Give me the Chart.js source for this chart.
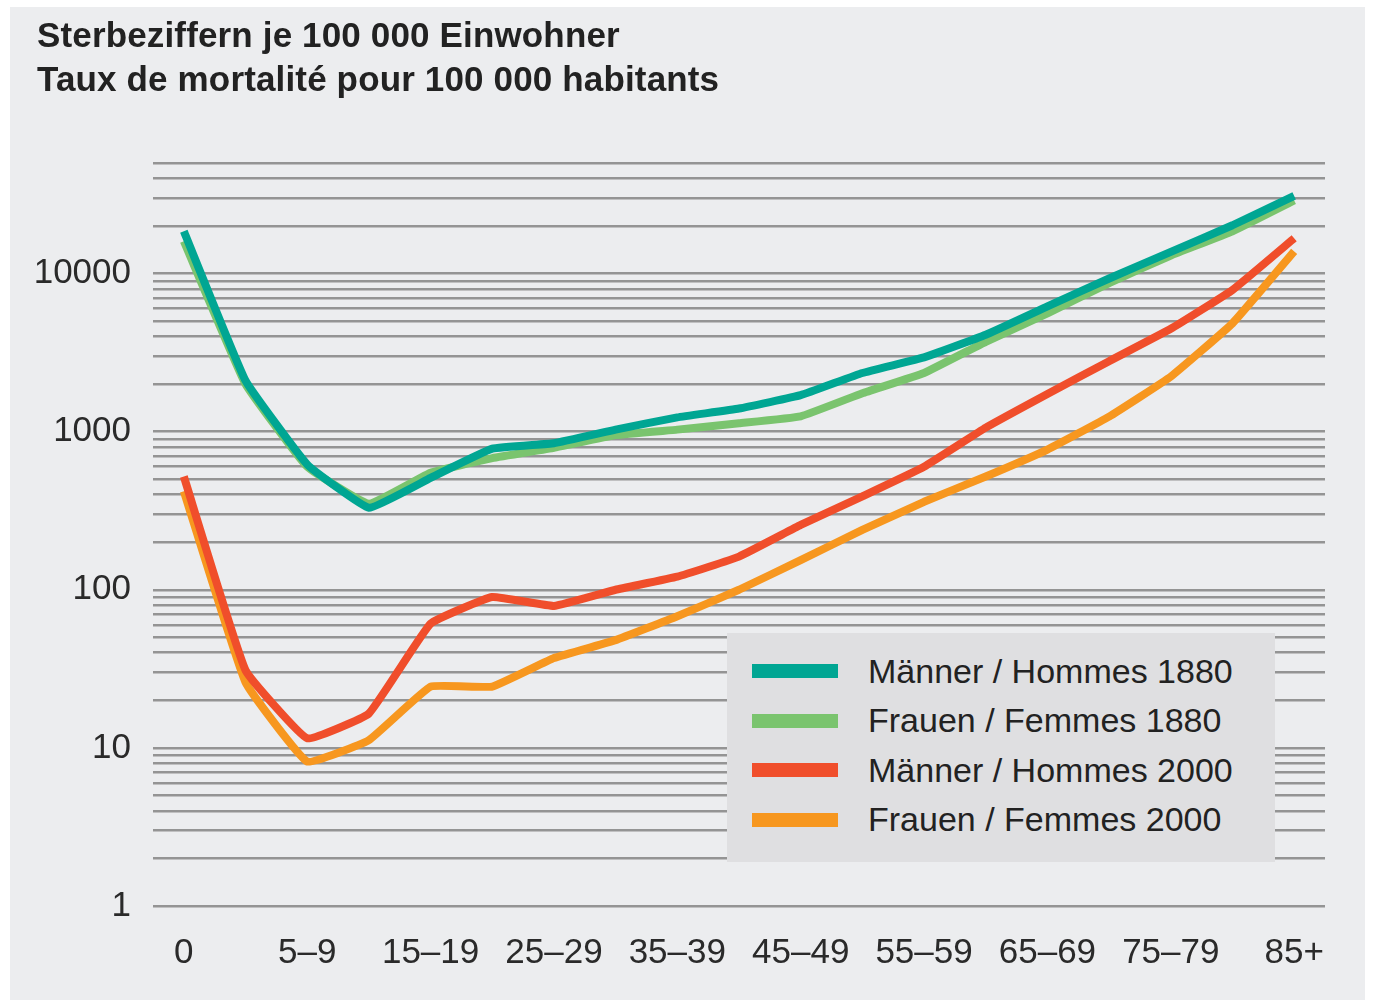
<!DOCTYPE html>
<html>
<head>
<meta charset="utf-8">
<script src="https://cdn.jsdelivr.net/npm/chart.js@4"></script>
<style>
  body { margin: 0; background: #ffffff; font-family: 'Liberation Sans', Arial, sans-serif; }
  #panel { position: absolute; left: 10px; top: 7px; width: 1355px; height: 993px; background: #ecedef; }
  #wrap { position: absolute; left: 0; top: 0; width: 1373px; height: 1007px; }
  #title { position: absolute; left: 37px; top: 13px; font-weight: bold; font-size: 35px; line-height: 44px; letter-spacing: 0.15px; color: #222; }
  #legend { position: absolute; left: 727px; top: 633px; width: 548px; height: 229px; background: #dfdfe1; }
  .row { position: absolute; left: 0; height: 40px; display: flex; align-items: center; }
  .sw { width: 86px; height: 14px; margin-left: 25px; margin-right: 30px; }
  .lt { font-size: 34px; color: #222; white-space: nowrap; }
</style>
</head>
<body>
<div id="panel"></div>
<div id="wrap"><canvas id="mortChart"></canvas></div>
<div id="title">Sterbeziffern je 100 000 Einwohner<br>Taux de mortalité pour 100 000 habitants</div>
<div id="legend"></div>
<script>
// Age groups (x axis)
const ageGroups = ['0', '1–4', '5–9', '10–14', '15–19', '20–24', '25–29', '30–34', '35–39',
  '40–44', '45–49', '50–54', '55–59', '60–64', '65–69', '70–74', '75–79', '80–84', '85+'];

// Deaths per 100 000 inhabitants
const men1880   = [18500, 2100, 620, 330, 510, 780, 845, 1030, 1230, 1400, 1700, 2350, 2950, 4100, 6200, 9300, 13700, 20200, 31000];
const women1880 = [16000, 2000, 600, 350, 550, 680, 790, 950, 1030, 1130, 1250, 1750, 2350, 3700, 5600, 8700, 13000, 18500, 29000];
const men2000   = [520, 31, 11.5, 16.5, 61, 90, 79, 100, 121, 162, 257, 390, 600, 1060, 1730, 2790, 4470, 7870, 16700];
const women2000 = [420, 26, 8.2, 11.2, 24.4, 24.4, 37, 48, 68, 100, 154, 239, 360, 520, 770, 1245, 2230, 4840, 13800];

const seriesLabels = ['Männer / Hommes 1880', 'Frauen / Femmes 1880', 'Männer / Hommes 2000', 'Frauen / Femmes 2000'];

// y axis: labelled decades, gridlines at every step inside a decade
const yDecades = [1, 10, 100, 1000, 10000];
const yMinorSteps = [1, 2, 3, 4, 5, 6, 7, 8, 9];
const yMax = 50000;

const colors = ['#00a693', '#7ac46e', '#f04e2b', '#f7971f'];

const gridValues = [];
yDecades.forEach(d => yMinorSteps.forEach(s => {
    if (d * s <= yMax) gridValues.push(d * s);
}));

const FONT = "'Liberation Sans', Arial, sans-serif";

function makeSet(i, data) {
    return {
        label: seriesLabels[i],
        data: data,
        borderColor: colors[i],
        backgroundColor: colors[i],
        borderWidth: 8,
        pointRadius: 0,
        fill: false,
        tension: 0.1,
        borderJoinStyle: 'round'
    };
}

const ctx = document.getElementById('mortChart').getContext('2d');
const mortChart = new Chart(ctx, {
    type: 'line',
    data: {
        labels: ageGroups,
        datasets: [
            makeSet(0, men1880),
            makeSet(1, women1880),
            makeSet(2, men2000),
            makeSet(3, women2000)
        ]
    },
    options: {
        responsive: true,
        maintainAspectRatio: false,
        animation: false,
        layout: { padding: { top: 163, right: 48, bottom: 31, left: 0 } },
        plugins: {
            legend: { display: false }, // HTML legend below
            tooltip: { enabled: false }
        },
        scales: {
            x: {
                offset: true,
                grid: { display: false, drawTicks: false },
                border: { display: false },
                afterFit: (scale) => { scale.height = 70; },
                ticks: {
                    autoSkip: false,
                    maxRotation: 0,
                    padding: 26,
                    color: '#2a2a2a',
                    font: { family: FONT, size: 35 },
                    callback: function (val, i) { return i % 2 === 0 ? this.getLabelForValue(val) : ''; }
                }
            },
            y: {
                type: 'logarithmic',
                min: 1,
                max: yMax,
                grid: { color: '#949494', lineWidth: 2.5, drawTicks: false },
                border: { display: false },
                afterFit: (scale) => { scale.width = 153; },
                afterBuildTicks: (scale) => { scale.ticks = gridValues.map(v => ({ value: v })); },
                ticks: {
                    autoSkip: false,
                    padding: 22,
                    color: '#2a2a2a',
                    font: { family: FONT, size: 35 },
                    callback: (v) => yDecades.includes(v) ? String(v) : ''
                }
            }
        }
    }
});

// Build the legend box in HTML
const legendEl = document.getElementById('legend');
seriesLabels.forEach((lab, i) => {
    const row = document.createElement('div');
    row.className = 'row';
    row.style.top = (18 + i * 49.5) + 'px';
    row.innerHTML = '<div class="sw" style="background:' + colors[i] + '"></div><span class="lt">' + lab + '</span>';
    legendEl.appendChild(row);
});
</script>
</body>
</html>
